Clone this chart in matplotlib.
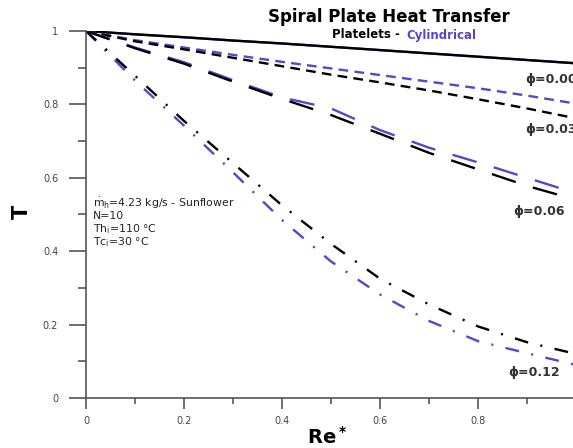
import matplotlib
matplotlib.use('Agg')
import matplotlib.pyplot as plt
from matplotlib.ticker import MultipleLocator

plt.rcParams['font.family'] = ['DejaVu Sans']
plt.rcParams['mathtext.default'] = 'regular'
plt.rcParams['lines.scale_dashes'] = False

# data
re_star = [0.0, 0.1, 0.2, 0.3, 0.4, 0.5, 0.6, 0.7, 0.8, 0.9, 1.0]

phi000_plt = [1.0, 0.991, 0.983, 0.974, 0.966, 0.957, 0.948, 0.939, 0.930, 0.921, 0.912]
phi000_cyl = [1.0, 0.991, 0.983, 0.974, 0.966, 0.957, 0.948, 0.939, 0.930, 0.921, 0.912]

phi003_plt = [1.0, 0.972, 0.950, 0.927, 0.904, 0.881, 0.860, 0.838, 0.814, 0.789, 0.762]
phi003_cyl = [1.0, 0.975, 0.955, 0.935, 0.916, 0.898, 0.880, 0.862, 0.844, 0.824, 0.802]

phi006_plt = [1.0, 0.953, 0.911, 0.862, 0.815, 0.771, 0.720, 0.668, 0.623, 0.578, 0.540]
phi006_cyl = [1.0, 0.955, 0.915, 0.866, 0.819, 0.789, 0.730, 0.682, 0.642, 0.600, 0.558]

phi012_plt = [1.0, 0.878, 0.755, 0.640, 0.525, 0.420, 0.325, 0.255, 0.195, 0.152, 0.120]
phi012_cyl = [1.0, 0.865, 0.742, 0.615, 0.485, 0.372, 0.282, 0.210, 0.155, 0.122, 0.090]

phi_labels = ['\u03d5=0.00', '\u03d5=0.03', '\u03d5=0.06', '\u03d5=0.12']
phi_label_px = [(525, 80), (525, 130), (513, 211), (508, 372)]

purple = '#5c44c8'
W, H = 573, 448

fig = plt.figure(figsize=(5.73, 4.48), dpi=100)
ax = fig.add_axes([86 / W, 50 / H, 490 / W, 367 / H])

lw = 1.7
# cylindrical under platelets
ax.plot(re_star, phi000_cyl, color=purple, lw=lw)
ax.plot(re_star, phi000_plt, color='black', lw=lw)
ax.plot(re_star, phi003_cyl, color=purple, lw=lw, dashes=(7, 4.5))
ax.plot(re_star, phi003_plt, color='black', lw=lw, dashes=(7, 4.5))
ax.plot(re_star, phi006_cyl, color=purple, lw=lw, dashes=(18, 13))
ax.plot(re_star, phi006_plt, color='black', lw=lw, dashes=(18, 13))
ax.plot(re_star, phi012_cyl, color=purple, lw=lw, dashes=(10, 9, 1.5, 9))
ax.plot(re_star, phi012_plt, color='black', lw=lw, dashes=(10, 9, 1.5, 9))

ax.set_xlim(0, 1)
ax.set_ylim(0, 1)
for s in ['top', 'right']:
    ax.spines[s].set_visible(False)
for s in ['left', 'bottom']:
    ax.spines[s].set_color('#555555')
    ax.spines[s].set_linewidth(1.2)

ax.xaxis.set_minor_locator(MultipleLocator(0.1))
ax.yaxis.set_minor_locator(MultipleLocator(0.1))
ax.set_xticks([0, 0.2, 0.4, 0.6, 0.8])
ax.set_xticklabels(['0', '0.2', '0.4', '0.6', '0.8'])
ax.set_yticks([0, 0.2, 0.4, 0.6, 0.8, 1.0])
ax.set_yticklabels(['0', '0.2', '0.4', '0.6', '0.8', '1'])
ax.tick_params(axis='y', which='major', direction='out', length=12, width=1.2,
               color='#555555', labelsize=7, labelcolor='#444444', pad=8)
ax.tick_params(axis='y', which='minor', direction='out', length=6, width=1.2, color='#555555')
ax.tick_params(axis='x', which='major', direction='out', length=8, width=1.2,
               color='#555555', labelsize=7, labelcolor='#444444', pad=5)
ax.tick_params(axis='x', which='minor', direction='out', length=4, width=1.2, color='#555555')

def px(x, y):
    return x / W, 1 - y / H

fig.text(*px(389, 17), 'Spiral Plate Heat Transfer', ha='center', va='center',
         fontsize=12, fontweight='bold')
fig.text(*px(404, 35), 'Platelets - ', ha='right', va='center', fontsize=8.5, fontweight='bold')
fig.text(*px(406, 35), 'Cylindrical', ha='left', va='center', fontsize=8.5,
         fontweight='bold', color=purple)

for lab, (x, y) in zip(phi_labels, phi_label_px):
    fig.text(*px(x, y), lab, ha='left', va='center', fontsize=9, fontweight='bold',
             color='#333333')

info = [r'$\dot{m}_h$=4.23 kg/s - Sunflower', 'N=10', 'Th$_i$=110 °C', 'Tc$_i$=30 °C']
info_y = [203, 216, 229, 242]
for t, y in zip(info, info_y):
    fig.text(*px(93, y), t, ha='left', va='center', fontsize=7.8, color='#222222')

fig.text(*px(327, 437), 'Re$^*$', ha='center', va='center', fontsize=14, fontweight='bold')
fig.text(*px(22, 212), 'T', ha='center', va='center', fontsize=15, fontweight='bold', rotation=90)

fig.savefig('out.png', dpi=100)
